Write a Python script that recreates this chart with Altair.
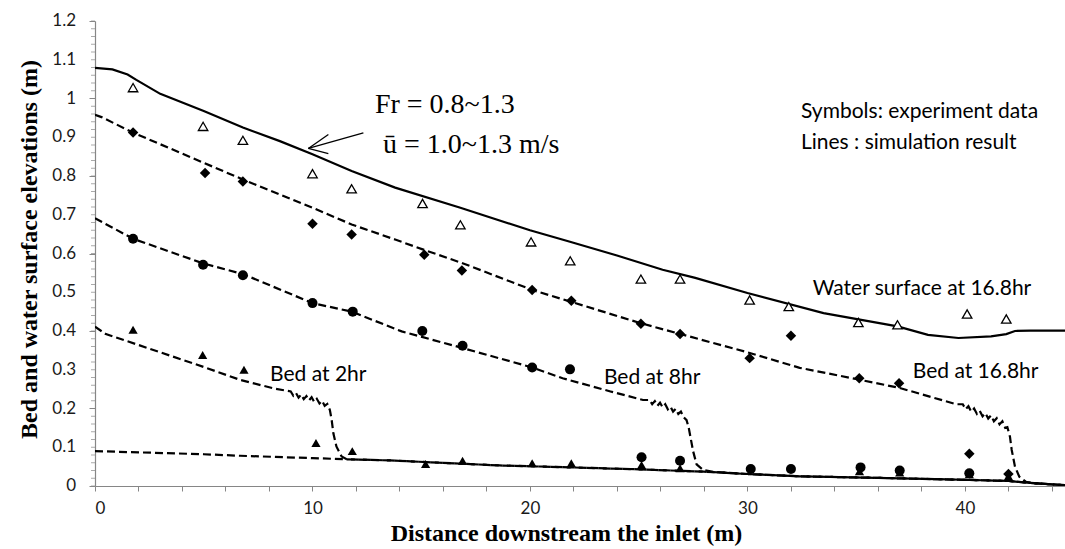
import altair as alt
import pandas as pd

# ---------------- data ----------------
# simulated water surface at 16.8 hr (solid line)
ws_x = [0, 0.8, 1.5, 1.9, 3.0, 5.0, 6.8, 8.5, 10.0, 11.8, 13.8, 16.8, 20.0, 21.8, 24.0,
        26.1, 27.6, 30.0, 33.5, 36.9, 38.3, 39.7, 41.2, 41.9, 42.3, 43.0, 44.6]
ws_y = [1.079, 1.075, 1.062, 1.048, 1.012, 0.968, 0.925, 0.890, 0.856, 0.813, 0.770, 0.718,
        0.660, 0.631, 0.595, 0.558, 0.537, 0.498, 0.446, 0.412, 0.390, 0.382, 0.386, 0.392,
        0.400, 0.401, 0.401]

# initial bed (dashed)
b0_x = [0, 5.0, 6.67, 10.0, 11.5, 13.56, 18.6, 20.0, 25.0, 28.0, 30.0, 32.4, 36.0, 40.0, 42.0, 43.0, 44.6]
b0_y = [0.090, 0.082, 0.078, 0.072, 0.069, 0.066, 0.053, 0.051, 0.043, 0.037, 0.031, 0.025,
        0.021, 0.016, 0.013, 0.008, 0.002]

# simulated bed at 2 hr (dashed)
b2_x = [0, 0.5, 2.0, 4.95, 6.67, 8.2,
        9.00, 9.12, 9.24, 9.36, 9.48, 9.60, 9.72, 9.84, 9.96, 10.08, 10.20, 10.32, 10.44, 10.56, 10.68, 10.80,
        10.88, 10.96, 11.10, 11.34, 11.57, 13.56, 18.6, 20.0, 25.0, 28.0, 30.0, 32.4, 36.0, 40.0, 42.0, 43.0, 44.6]
b2_y = [0.411, 0.392, 0.364, 0.308, 0.274, 0.252,
        0.244, 0.233, 0.240, 0.228, 0.236, 0.224, 0.232, 0.221, 0.229, 0.217, 0.225, 0.213, 0.220, 0.207, 0.212, 0.196,
        0.171, 0.136, 0.102, 0.076, 0.069, 0.066, 0.053, 0.051, 0.043, 0.037, 0.031, 0.025, 0.021, 0.016, 0.013, 0.008, 0.002]

# simulated bed at 8 hr (dashed)
b8_x = [0, 1.75, 5.0, 6.8, 10.0, 11.8, 14.1, 16.9, 20.1, 21.5, 23.7, 25.2,
        25.50, 25.62, 25.74, 25.86, 25.98, 26.10, 26.22, 26.34, 26.46, 26.58, 26.70, 26.82, 26.94, 27.06,
        27.20, 27.30, 27.40, 27.50, 27.66, 27.97, 28.5, 30.0, 32.4, 36.0, 40.0, 42.0, 43.0, 44.6]
b8_y = [0.691, 0.638, 0.574, 0.547, 0.472, 0.450, 0.399, 0.356, 0.306, 0.278, 0.244, 0.222,
        0.222, 0.211, 0.219, 0.207, 0.215, 0.203, 0.211, 0.198, 0.205, 0.192, 0.199, 0.186, 0.192, 0.178,
        0.170, 0.150, 0.120, 0.090, 0.056, 0.041, 0.036, 0.031, 0.025, 0.021, 0.016, 0.013, 0.008, 0.002]

# simulated bed at 16.8 hr (dashed)
b16_x = [0, 0.3, 1.75, 5.0, 6.8, 10.0, 11.8, 13.8, 15.1, 16.9, 20.1, 25.1, 30.0, 32.4, 35.1, 37.0, 39.6,
         39.90, 40.03, 40.16, 40.29, 40.42, 40.55, 40.68, 40.81, 40.94, 41.07, 41.20, 41.33, 41.46, 41.59,
         41.72, 41.85, 41.95, 42.07, 42.15, 42.30, 42.50, 42.80, 43.2, 44.6]
b16_y = [0.958, 0.952, 0.912, 0.834, 0.791, 0.718, 0.675, 0.636, 0.610, 0.575, 0.506, 0.420, 0.345,
         0.305, 0.275, 0.253, 0.211,
         0.211, 0.198, 0.206, 0.192, 0.200, 0.186, 0.194, 0.180, 0.188, 0.174, 0.182, 0.167, 0.175, 0.159,
         0.167, 0.150, 0.152, 0.127, 0.093, 0.050, 0.024, 0.011, 0.007, 0.002]

# experiment data (symbols)
ws_obs_x = [1.75, 4.97, 6.8, 10.0, 11.8, 15.06, 16.8, 20.05, 21.85, 25.1, 26.9, 30.1, 31.9, 35.1, 36.9, 40.1, 41.9]
ws_obs_y = [1.028, 0.928, 0.892, 0.806, 0.767, 0.729, 0.674, 0.630, 0.581, 0.534, 0.534, 0.480,
            0.463, 0.422, 0.416, 0.444, 0.431]

b2_obs_x = [1.75, 4.95, 6.85, 10.16, 11.83, 15.2, 16.9, 20.1, 21.9, 25.13, 26.9, 35.15, 37.0, 40.2, 42.0]
b2_obs_y = [0.403, 0.338, 0.300, 0.111, 0.090, 0.057, 0.065, 0.059, 0.059, 0.054, 0.046, 0.038,
            0.035, 0.030, 0.025]

b8_obs_x = [1.75, 4.97, 6.8, 10.0, 11.85, 15.05, 16.9, 20.1, 21.84, 25.13, 26.9, 30.15, 32.0, 35.2, 37.0, 40.2]
b8_obs_y = [0.638, 0.571, 0.544, 0.472, 0.450, 0.400, 0.362, 0.306, 0.301, 0.074, 0.065, 0.044,
            0.044, 0.048, 0.040, 0.033]

b16_obs_x = [1.75, 5.06, 6.8, 10.0, 11.8, 15.14, 16.87, 20.1, 21.9, 25.1, 26.9, 30.1, 32.0, 35.14, 36.97, 40.2, 42.0]
b16_obs_y = [0.912, 0.808, 0.786, 0.677, 0.649, 0.597, 0.556, 0.506, 0.478, 0.419, 0.392, 0.330,
             0.388, 0.278, 0.265, 0.083, 0.031]

x_ticks = [0, 2, 4, 6, 8, 10, 12, 14, 16, 18, 20, 22, 24, 26, 28, 30, 32, 34, 36, 38, 40, 42, 44]
y_major = [0, 0.1, 0.2, 0.3, 0.4, 0.5, 0.6, 0.7, 0.8, 0.9, 1.0, 1.1, 1.2]
y_labels = ["0", "0.1", "0.2", "0.3", "0.4", "0.5", "0.6", "0.7", "0.8", "0.9", "1", "1.1", "1.2"]
y_minor = [round(i * 0.02, 2) for i in range(61)]

# annotations (data coordinates)
labels = ["Water surface at 16.8hr", "Bed at 16.8hr", "Bed at 8hr", "Bed at 2hr",
          "Symbols: experiment data", "Lines : simulation result"]
label_x = [33.0, 37.6, 23.4, 8.05, 32.46, 32.46]
label_y = [0.509, 0.295, 0.279, 0.287, 0.964, 0.886]

eq_text = ["Fr = 0.8~1.3", "ū = 1.0~1.3 m/s"]
eq_x = [12.87, 13.24]
eq_y = [0.984, 0.881]

arrow_x = [12.34, 9.81, 9.81]
arrow_y = [0.911, 0.871, 0.871]
arrow_x2 = [9.81, 10.73, 10.73]
arrow_y2 = [0.871, 0.907, 0.858]

# ---------------- build tables ----------------
def series(xs, ys, name):
    return pd.DataFrame({"x": xs, "y": ys, "series": name, "i": range(len(xs))})

ws_df = series(ws_x, ws_y, "ws")
beds_df = pd.concat([series(b0_x, b0_y, "b0"), series(b2_x, b2_y, "b2"),
                     series(b8_x, b8_y, "b8"), series(b16_x, b16_y, "b16")])

XDOM = [0, 44.6]
YDOM = [0, 1.2]

x_enc = alt.X("x:Q", scale=alt.Scale(domain=XDOM, nice=False, zero=False),
              axis=alt.Axis(values=x_ticks, labelExpr="datum.value % 10 === 0 ? datum.value : ''",
                            title="Distance downstream the inlet (m)", grid=False,
                            tickSize=5, labelPadding=9, labelOverlap=False,
                            titleX=471, titleY=54, titleBaseline="alphabetic"))
y_enc = alt.Y("y:Q", scale=alt.Scale(domain=YDOM, nice=False),
              axis=alt.Axis(values=y_major, labels=False,
                            title="Bed and water surface elevations (m)", grid=False,
                            tickSize=6,
                            titleX=-59, titleY=228, titleAngle=-90, titleBaseline="alphabetic",
                            titleAlign="center"))

ws_line = alt.Chart(ws_df).mark_line(color="black", strokeWidth=2.2, clip=True).encode(
    x=x_enc, y=y_enc, order="i:Q")

bed_lines = alt.Chart(beds_df).mark_line(color="black", strokeWidth=2.2, strokeDash=[8, 4], clip=True).encode(
    x="x:Q", y="y:Q", detail="series:N", order="i:Q")

# minor ticks of the y axis
minor_df = pd.DataFrame({"y": y_minor})
minor = alt.Chart(minor_df).mark_tick(orient="horizontal", size=4, thickness=1, color="#868686",
                                      clip=False).encode(x=alt.value(-2), y="y:Q")

# y tick labels
ylab_df = pd.DataFrame({"y": y_major, "t": y_labels})
ylab = alt.Chart(ylab_df).mark_text(align="right", baseline="middle", font="Lato", fontSize=17,
                                    color="#1a1a1a", clip=False).encode(
    x=alt.value(-19), y="y:Q", text="t:N")

def pts(xs, ys, shape, filled, size):
    df = pd.DataFrame({"x": xs, "y": ys})
    if filled:
        m = alt.Chart(df).mark_point(shape=shape, filled=True, color="black", size=size, opacity=1)
    else:
        m = alt.Chart(df).mark_point(shape=shape, filled=True, fill="white", stroke="black",
                                     strokeWidth=1.3, size=size, opacity=1)
    return m.encode(x="x:Q", y="y:Q")

p_b2 = pts(b2_obs_x, b2_obs_y, "triangle-up", True, 85)
p_b8 = pts(b8_obs_x, b8_obs_y, "circle", True, 100)
p_b16 = pts(b16_obs_x, b16_obs_y, "diamond", True, 110)
p_ws = pts(ws_obs_x, ws_obs_y, "triangle-up", False, 90)

lab_df = pd.DataFrame({"x": label_x, "y": label_y, "t": labels})
lab = alt.Chart(lab_df).mark_text(align="left", baseline="middle", font="Lato", fontSize=21,
                                  color="black").encode(x="x:Q", y="y:Q", text="t:N")

eq_df = pd.DataFrame({"x": eq_x, "y": eq_y, "t": eq_text})
eq = alt.Chart(eq_df).mark_text(align="left", baseline="middle", font="Liberation Serif", fontSize=28,
                                color="black").encode(x="x:Q", y="y:Q", text="t:N")

arr_df = pd.DataFrame({"x": arrow_x, "y": arrow_y, "x2": arrow_x2, "y2": arrow_y2})
arrow = alt.Chart(arr_df).mark_rule(color="black", strokeWidth=1.3).encode(
    x="x:Q", y="y:Q", x2="x2:Q", y2="y2:Q")

chart = alt.layer(ws_line, bed_lines, minor, ylab, p_b2, p_b8, p_b16, p_ws, lab, eq, arrow).properties(
    width=970, height=465,
    autosize=alt.AutoSizeParams(type="none"),
    padding={"left": 95, "top": 21, "right": 0, "bottom": 63},
    background="white",
).configure_view(stroke=None).configure_axis(
    domainColor="#868686", tickColor="#868686", labelColor="#1a1a1a",
    labelFont="Lato", labelFontSize=17, titleFont="Liberation Serif", titleFontSize=24,
    titleFontWeight="bold", titleColor="black", domainWidth=1.2, tickWidth=1,
)

chart.save("out.html", embed_options={"renderer": "svg", "actions": False})
